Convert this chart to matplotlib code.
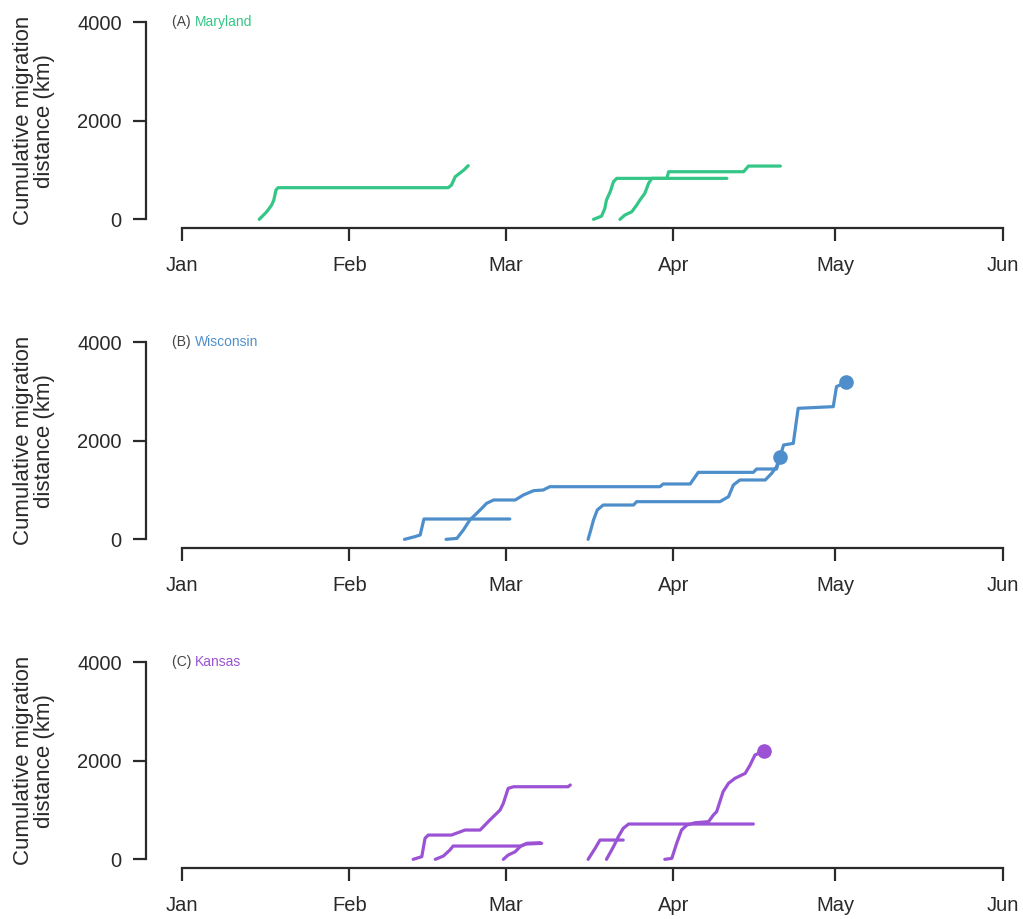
#cumulative migration distance of tracked birds, three capture regions
#x axis is day of year (2020, leap year), 0 = 1 Jan

import numpy as np
import matplotlib.pyplot as plt

plt.rcParams["font.family"] = ["Liberation Sans", "DejaVu Sans"]

month_days = [0, 31, 60, 91, 121, 152]
month_labels = ["Jan", "Feb", "Mar", "Apr", "May", "Jun"]

#(A) Maryland tracks:
md1_day = [14.3, 15.7, 16.6, 17.0, 17.4, 17.8, 49.3, 49.9, 50.6, 51.4, 52.2, 53.0]
md1_km = [0, 156, 291, 393, 596, 643, 643, 697, 866, 934, 1002, 1090]
md2_day = [76.2, 77.7, 78.3, 78.6, 79.3, 79.9, 80.5, 100.9]
md2_km = [0, 66, 222, 392, 561, 764, 832, 832]
md3_day = [81.1, 82.0, 83.3, 84.2, 84.8, 85.7, 86.4, 87.0, 89.8, 90.1, 104.0, 104.9, 110.8]
md3_km = [0, 87, 155, 290, 392, 527, 730, 832, 832, 967, 967, 1082, 1082]

#(B) Wisconsin tracks:
wi1_day = [41.2, 43.1, 44.1, 44.8, 60.7]
wi1_km = [0, 54, 88, 413, 413]
wi2_day = [48.9, 50.9, 52.1, 53.3, 55.2, 56.4, 57.7, 61.7, 63.2, 65.1, 66.9, 68.1, 88.5,
           89.1, 94.1, 95.6, 105.8, 106.4, 110.1, 111.4, 113.2, 114.1, 120.6, 121.2, 122.9]
wi2_km = [0, 20, 190, 393, 596, 731, 799, 799, 900, 988, 1002, 1069, 1069,
          1124, 1124, 1360, 1360, 1428, 1428, 1915, 1949, 2660, 2694, 3100, 3188]
wi3_day = [75.2, 75.7, 76.2, 76.9, 78.0, 83.6, 84.2, 99.6, 101.2, 102.1, 103.3, 108.0, 109.2, 110.1, 110.7]
wi3_km = [0, 190, 393, 596, 697, 697, 765, 765, 866, 1103, 1205, 1205, 1340, 1475, 1679]

#(C) Kansas tracks:
ks1_day = [42.8, 44.4, 45.0, 45.6, 49.9, 52.4, 55.2, 57.0, 58.9, 59.5, 60.4, 61.4, 71.5, 71.9]
ks1_km = [0, 54, 426, 493, 493, 595, 595, 798, 1001, 1137, 1442, 1474, 1474, 1509]
ks2_day = [46.9, 48.4, 49.6, 50.2, 62.6, 63.8, 66.6]
ks2_km = [0, 67, 189, 270, 270, 311, 325]
ks3_day = [59.5, 60.4, 61.7, 62.6, 63.8, 66.3]
ks3_km = [0, 87, 155, 257, 325, 338]
ks4_day = [75.2, 76.5, 77.4, 81.7]
ks4_km = [0, 223, 392, 392]
ks5_day = [78.6, 79.9, 80.8, 81.7, 82.7, 105.8]
ks5_km = [0, 257, 460, 629, 717, 717]
ks6_day = [89.4, 90.7, 91.6, 92.5, 93.5, 95.0, 97.5, 98.4, 99.0, 99.6, 100.2, 101.2,
           102.4, 104.3, 105.2, 106.1, 107.8]
ks6_km = [0, 20, 325, 595, 697, 743, 764, 900, 967, 1170, 1373, 1543, 1645, 1746,
          1915, 2118, 2199]

panels = [
    ("(A) ", "Maryland", "#33c687",
     [(md1_day, md1_km, False), (md2_day, md2_km, False), (md3_day, md3_km, False)]),
    ("(B) ", "Wisconsin", "#4e8fcb",
     [(wi1_day, wi1_km, False), (wi2_day, wi2_km, True), (wi3_day, wi3_km, True)]),
    ("(C) ", "Kansas", "#9b52d4",
     [(ks1_day, ks1_km, False), (ks2_day, ks2_km, False), (ks3_day, ks3_km, False),
      (ks4_day, ks4_km, False), (ks5_day, ks5_km, False), (ks6_day, ks6_km, True)]),
]

fig = plt.figure(figsize=(10.23, 9.19), dpi=100)
bottoms = [0.7522, 0.4040, 0.0558]
axis_col = "#2a2a2a"

for (tag, name, col, tracks), b in zip(panels, bottoms):
    ax = fig.add_axes([146/1023, b, 866/1023, 0.2321])
    for d, km, dot in tracks:
        ax.plot(d, km, color=col, lw=2.3, solid_joinstyle="round", solid_capstyle="round")
        if dot:
            ax.plot(d[-1], km[-1], "o", color=col, ms=9.5)
    ax.set_xlim(-6.67, 153.7)
    ax.set_ylim(-170, 4160)
    for s in ["top", "right"]:
        ax.spines[s].set_visible(False)
    ax.spines["left"].set_bounds(0, 4000)
    ax.spines["bottom"].set_bounds(0, 152)
    for s in ["left", "bottom"]:
        ax.spines[s].set_linewidth(1.6)
        ax.spines[s].set_color(axis_col)
    ax.set_xticks(month_days)
    ax.set_xticklabels(month_labels)
    ax.set_yticks([0, 2000, 4000])
    ax.set_yticklabels(["0", "2000", "4000"])
    ax.tick_params(axis="both", length=9.5, width=1.6, color=axis_col, labelsize=14.5,
                   labelcolor=axis_col)
    ax.tick_params(axis="x", pad=11)
    ax.tick_params(axis="y", pad=8)
    t = ax.text(-1.85, 4000, tag, color="#444444", fontsize=10, va="center", ha="left")
    ax.annotate(name, xy=(1, 0), xycoords=t, va="bottom", ha="left", color=col, fontsize=10)
    ycen = b + (4000 / 2 + 170) / 4330 * 0.2321
    fig.text(34/1023, ycen, "Cumulative migration\ndistance (km)", rotation=90,
             ha="center", va="center", multialignment="center", fontsize=16,
             linespacing=1.05, color=axis_col)

fig.savefig("out.png", dpi=100)
